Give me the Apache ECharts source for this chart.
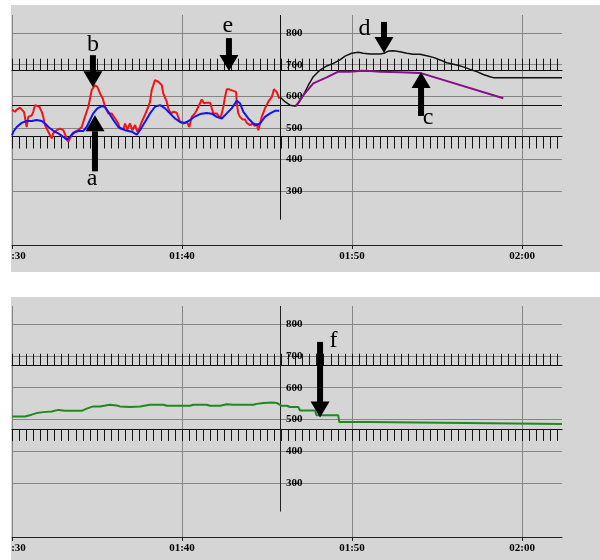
<!DOCTYPE html>
<html><head><meta charset="utf-8">
<script src="https://cdn.jsdelivr.net/npm/echarts@6/dist/echarts.min.js"></script>
<style>html,body{margin:0;padding:0;background:#fff}#c{width:600px;height:560px}</style>
</head><body><div id="c"></div>
<script>
// x values are minutes after 01:30
const xTickMinutes = [0, 10, 20, 30];
const xTickLabels = ['01:30', '01:40', '01:50', '02:00'];
const yTickValues = [300, 400, 500, 600, 700, 800];
const X_MAX = 32.35;
const Y_MIN = 130, Y_MAX = 857;
const axisMinute = 15.76;          // where the value axis sits
const axisLineFrom = 210;          // value-axis line runs from this value up
const topThreshold = 571;          // black reference line, top panel
const hatchTop = [681, 473];       // hatched limit lines, top panel
const hatchBottom = [669, 470];    // hatched limit lines, bottom panel

const redData = [[0,558],[0.18,551],[0.28,558],[0.47,564],[0.71,550],[0.86,503],[0.96,535],[1.16,540],[1.25,551],[1.35,572],[1.45,578],[1.61,567],[1.75,551],[1.84,535],[1.94,509],[2.04,498],[2.14,493],[2.24,477],[2.34,467],[2.43,483],[2.63,493],[2.82,498],[3.02,493],[3.22,467],[3.31,456],[3.41,467],[3.51,477],[3.71,488],[3.9,493],[4.1,503],[4.29,535],[4.49,567],[4.59,593],[4.69,620],[4.88,635],[5.02,630],[5.18,609],[5.34,593],[5.47,567],[5.66,546],[5.86,546],[6.06,530],[6.25,514],[6.35,498],[6.55,495],[6.65,514],[6.78,495],[6.94,514],[7.08,493],[7.24,509],[7.37,488],[7.49,498],[7.63,519],[7.82,541],[8.02,567],[8.12,583],[8.22,620],[8.41,651],[8.61,646],[8.81,635],[8.9,609],[9.1,583],[9.19,562],[9.34,546],[9.49,551],[9.69,548],[9.88,519],[10.08,514],[10.28,519],[10.43,503],[10.57,535],[10.76,546],[10.86,556],[11.06,578],[11.16,590],[11.29,578],[11.45,580],[11.65,580],[11.75,562],[11.84,546],[12.04,546],[12.24,530],[12.34,546],[12.43,567],[12.53,598],[12.63,622],[12.78,622],[13.02,617],[13.18,614],[13.22,578],[13.31,546],[13.41,535],[13.57,527],[13.71,527],[13.81,516],[14.0,509],[14.16,514],[14.29,506],[14.39,514],[14.49,493],[14.59,495],[14.69,535],[14.88,562],[15.08,583],[15.28,598],[15.41,622],[15.57,614],[15.72,593]];

const blueData = [[0,476],[0.08,488],[0.28,503],[0.57,516],[0.86,522],[1.16,522],[1.45,525],[1.75,522],[1.94,514],[2.14,503],[2.43,491],[2.72,483],[3.02,472],[3.22,463],[3.41,472],[3.61,485],[3.9,490],[4.19,490],[4.39,503],[4.59,525],[4.78,546],[5.02,562],[5.28,569],[5.47,566],[5.66,551],[5.96,525],[6.25,503],[6.65,493],[7.04,488],[7.34,479],[7.53,493],[7.82,519],[8.12,546],[8.41,567],[8.71,572],[9.0,562],[9.29,546],[9.59,530],[9.88,519],[10.18,516],[10.47,525],[10.76,536],[11.06,544],[11.45,547],[11.75,545],[12.04,535],[12.34,530],[12.63,546],[12.92,562],[13.22,586],[13.41,578],[13.61,551],[13.9,530],[14.19,514],[14.39,509],[14.59,514],[14.88,535],[15.18,546],[15.47,554],[15.72,554]];

const blackData = [[15.76,598],[16.06,583],[16.35,572],[16.65,569],[16.84,578],[17.14,604],[17.43,635],[17.72,662],[18.12,683],[18.51,696],[18.9,704],[19.29,715],[19.59,727],[19.98,736],[20.37,739],[20.66,736],[21.06,734],[21.65,734],[21.88,736],[22.14,743],[22.43,744],[22.82,741],[23.22,736],[23.61,733],[24.0,733],[24.39,728],[24.78,723],[25.18,715],[25.57,706],[26.16,699],[26.55,693],[26.94,685],[27.34,678],[27.72,669],[28.12,662],[28.31,659],[32.35,659]];

const purpleData = [[16.71,569],[17.14,604],[17.72,641],[18.51,660],[19.19,678],[19.88,678],[20.57,681],[21.06,680],[21.65,678],[22.82,676],[24.0,674],[28.9,594]];

const greenData = [[0,509],[0.76,509],[1.16,515],[1.45,520],[1.84,523],[2.34,525],[2.72,530],[3.12,527],[4.1,527],[4.39,534],[4.78,541],[5.18,541],[5.76,546],[6.16,544],[6.35,541],[6.94,539],[7.53,541],[8.12,546],[8.9,546],[9.1,543],[10.47,543],[10.66,546],[11.45,546],[11.65,543],[12.24,543],[12.63,548],[13.02,546],[14.2,546],[14.39,549],[14.78,552],[15.37,553],[15.57,552],[15.86,543],[16.16,543],[16.35,539],[16.84,539],[16.94,528],[17.82,528],[17.92,513],[19.19,513],[19.25,492],[20.96,492],[21.06,486],[32.35,486]];

// annotation arrows: minute, tip value, tail value, letter
const arrowLetters = ['a', 'b', 'e', 'd', 'c', 'f'];
const arrowPanel   = [0, 0, 0, 0, 0, 1];
const arrowMinute  = [4.88, 4.76, 12.76, 21.88, 24.06, 18.12];
const arrowTip     = [540, 629, 680, 737, 677, 506];
const arrowTail    = [366, 730, 784, 835, 541, 744];
const labelDx = [-3, 0, -1, -19.5, 7, 13.5];
const labelDy = [8, -10, -12.5, 6.5, 3, -1.5];

const GRID_LEFT = 12, GRID_RIGHT = 38, W = 600;
const grids = [{top: 15, height: 230}, {top: 306, height: 231}];
const gridW = W - GRID_LEFT - GRID_RIGHT;
const axisPx = GRID_LEFT + axisMinute / X_MAX * gridW;
const yOffset = -((W - GRID_RIGHT) - axisPx);
const yPx = (v, h) => (Y_MAX - v) / (Y_MAX - Y_MIN) * h;

const hatchTicks = [];
for (let k = 0; k * 25 / 60 <= X_MAX; k++) hatchTicks.push(k * 25 / 60);

const labelFont = {fontFamily: 'Liberation Serif', fontWeight: 'bold', fontSize: 11, color: '#000'};
const gridLine = {show: true, lineStyle: {color: '#858585', width: 1}};

function mainX(g) {
  return {
    type: 'value', gridIndex: g, min: 0, max: X_MAX, position: 'bottom',
    axisLine: {show: true, lineStyle: {color: '#222', width: 1}},
    axisTick: {show: true, length: 4, customValues: xTickMinutes, lineStyle: {color: '#222'}},
    axisLabel: Object.assign({
      customValues: xTickMinutes, margin: 6,
      formatter: v => {
        const i = xTickMinutes.indexOf(Math.round(v));
        const s = i >= 0 ? xTickLabels[i] : '';
        return i === 0 ? '{s|' + s.slice(2) + '}' : s;
      },
      rich: {s: Object.assign({padding: [0, 0, 0, 13]}, labelFont)}
    }, labelFont),
    splitLine: gridLine
  };
}
function hatchX(g, v, upper) {
  const h = grids[g].height;
  return {
    type: 'value', gridIndex: g, min: 0, max: X_MAX,
    position: upper ? 'top' : 'bottom',
    offset: upper ? -yPx(v, h) : -(h - yPx(v, h)),
    axisLine: {show: true, lineStyle: {color: '#111', width: 1.2}},
    axisTick: {show: true, length: 12, inside: false, customValues: hatchTicks, lineStyle: {color: '#111', width: 1}},
    axisLabel: {show: false}, splitLine: {show: false}
  };
}
function mainY(g) {
  return {
    type: 'value', gridIndex: g, min: Y_MIN, max: Y_MAX, position: 'right', offset: yOffset,
    axisLine: {show: false},
    axisTick: {show: true, length: 5, customValues: yTickValues, lineStyle: {color: '#222'}},
    axisLabel: Object.assign({customValues: yTickValues, margin: 6}, labelFont),
    splitLine: gridLine
  };
}
function vAxisLine() {
  return {
    silent: true, symbol: ['none', 'none'], label: {show: false},
    lineStyle: {color: '#222', type: 'solid', width: 1},
    data: [[{coord: [axisMinute, axisLineFrom]}, {coord: [axisMinute, Y_MAX]}]]
  };
}

const chart = echarts.init(document.getElementById('c'), null, {renderer: 'canvas'});
const line = (name, data, xi, yi, color, width, extra) => Object.assign({
  name, type: 'line', data, xAxisIndex: xi, yAxisIndex: yi, showSymbol: false, symbol: 'none',
  lineStyle: {color, width}, itemStyle: {color}, animation: false, z: 5
}, extra || {});

chart.setOption({
  backgroundColor: '#ffffff',
  animation: false,
  grid: grids.map(g => ({left: GRID_LEFT, right: GRID_RIGHT, top: g.top, height: g.height})),
  xAxis: [mainX(0), hatchX(0, hatchTop[0], true), hatchX(0, hatchTop[1], false),
          mainX(1), hatchX(1, hatchBottom[0], true), hatchX(1, hatchBottom[1], false)],
  yAxis: [mainY(0), mainY(1)],
  series: [
    line('red', redData, 0, 0, '#f21414', 2, {markLine: {
      silent: true, symbol: ['none', 'none'], label: {show: false},
      lineStyle: {color: '#111', type: 'solid', width: 1},
      data: [{yAxis: topThreshold}, [{coord: [axisMinute, axisLineFrom]}, {coord: [axisMinute, Y_MAX]}]]
    }}),
    line('blue', blueData, 0, 0, '#1414f0', 2),
    line('black', blackData, 0, 0, '#111111', 1.5),
    line('purple', purpleData, 0, 0, '#8a0e8a', 2),
    line('green', greenData, 3, 1, '#1e8a1e', 2, {markLine: vAxisLine()})
  ]
});

const gfx = [
  {type: 'rect', z: -10, shape: {x: 11, y: 5, width: 589, height: 267}, style: {fill: '#d5d5d5'}},
  {type: 'rect', z: -10, shape: {x: 11, y: 297, width: 589, height: 263}, style: {fill: '#d5d5d5'}}
];
const HEAD_H = 16, HEAD_W = 19, SHAFT_W = 6;
arrowLetters.forEach((L, i) => {
  const finder = arrowPanel[i] === 0 ? {xAxisIndex: 0, yAxisIndex: 0} : {xAxisIndex: 3, yAxisIndex: 1};
  const tip = chart.convertToPixel(finder, [arrowMinute[i], arrowTip[i]]);
  const tail = chart.convertToPixel(finder, [arrowMinute[i], arrowTail[i]]);
  const dir = tip[1] > tail[1] ? 1 : -1;
  const baseY = tip[1] - dir * HEAD_H;
  gfx.push({type: 'polygon', z: 50, shape: {points: [[tip[0], tip[1]], [tip[0] - HEAD_W / 2, baseY], [tip[0] + HEAD_W / 2, baseY]]}, style: {fill: '#000'}});
  gfx.push({type: 'rect', z: 50, shape: {x: tip[0] - SHAFT_W / 2, y: Math.min(tail[1], baseY), width: SHAFT_W, height: Math.abs(baseY - tail[1]) + 1}, style: {fill: '#000'}});
  gfx.push({type: 'text', z: 50, x: tail[0] + labelDx[i], y: tail[1] + labelDy[i],
    style: {text: L, fill: '#000', font: '24px "Liberation Serif", "Times New Roman", serif', align: 'center', verticalAlign: 'middle'}});
});
chart.setOption({graphic: gfx});
</script></body></html>
